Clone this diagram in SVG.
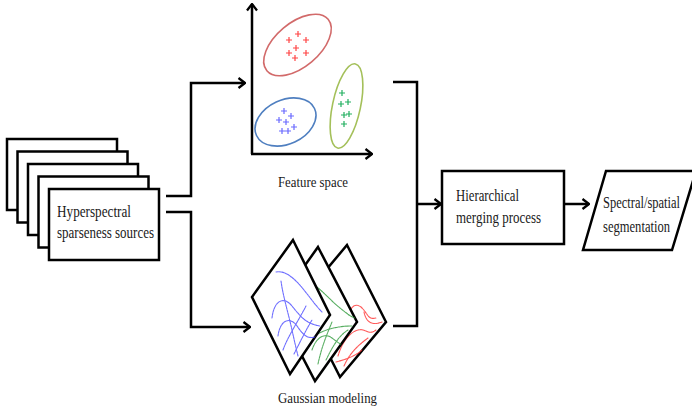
<svg xmlns="http://www.w3.org/2000/svg" width="692" height="418" viewBox="0 0 692 418">
  <style>
    .box { fill: #ffffff; stroke: #000000; stroke-width: 2.5; }
    .wire { fill: none; stroke: #000000; stroke-width: 2.5; stroke-linejoin: miter; }
    .axis { fill: none; stroke: #000000; stroke-width: 2.5; }
    .lbl { font-family: "Liberation Serif", "Times New Roman", serif; font-size: 16px; fill: #1a1a1a; }
    .cap { font-family: "Liberation Serif", "Times New Roman", serif; font-size: 15px; fill: #1a1a1a; }
    .curve { fill: none; stroke-width: 1.1; stroke-dasharray: 2.2 0.8; stroke-linecap: round; opacity: 0.8; }
    .plus { fill: none; stroke-width: 1.2; }
  </style>
  <defs>
    <marker id="chev" viewBox="0 0 10 12" refX="9" refY="6" markerWidth="10" markerHeight="12" markerUnits="userSpaceOnUse" orient="auto">
      <path d="M2.5,1 L9,6 L2.5,11" fill="none" stroke="#000" stroke-width="2.3"/>
    </marker>
    <path id="pl" d="M-3,0 H3 M0,-3 V3"/>
    <clipPath id="clipFront"><polygon points="293,240 330,315 290,374 252,297"/></clipPath>
    <clipPath id="clipMid"><polygon points="318,247 357,322 315,381 276,306"/></clipPath>
    <clipPath id="clipBack"><polygon points="347,245 386,322 340,377 301,300"/></clipPath>
  </defs>

  <!-- stacked source sheets -->
  <g id="sources">
    <rect class="box" x="7" y="139" width="110" height="71"/>
    <rect class="box" x="17.5" y="151.5" width="110" height="71"/>
    <rect class="box" x="28" y="164" width="110" height="71"/>
    <rect class="box" x="38.5" y="176.5" width="110" height="71"/>
    <rect class="box" x="49" y="189" width="110" height="71"/>
    <text class="lbl" x="57" y="217" textLength="74" lengthAdjust="spacingAndGlyphs">Hyperspectral</text>
    <text class="lbl" x="57" y="238" textLength="97" lengthAdjust="spacingAndGlyphs">sparseness sources</text>
  </g>

  <!-- feature space scatter plot -->
  <g id="feature-space">
    <path class="axis" d="M252,154 V4" marker-end="url(#chev)"/>
    <path class="axis" d="M251,154 H372" marker-end="url(#chev)"/>
    <ellipse cx="297.5" cy="45" rx="40" ry="22" transform="rotate(-40 297.5 45)" fill="none" stroke="#d26a6a" stroke-width="1.6"/>
    <ellipse cx="285.5" cy="122" rx="32" ry="22" transform="rotate(-25 285.5 122)" fill="none" stroke="#4f7fc0" stroke-width="1.6"/>
    <ellipse cx="346.5" cy="106" rx="14" ry="43" transform="rotate(12 346.5 106)" fill="none" stroke="#a4c05a" stroke-width="1.6"/>
    <g class="plus" stroke="#ff4545">
      <use href="#pl" x="298" y="34"/><use href="#pl" x="289" y="40"/><use href="#pl" x="306" y="40"/>
      <use href="#pl" x="296" y="48"/><use href="#pl" x="289" y="53"/><use href="#pl" x="306" y="53"/>
      <use href="#pl" x="295" y="58"/>
    </g>
    <g class="plus" stroke="#22b060">
      <use href="#pl" x="342" y="93"/><use href="#pl" x="341" y="104"/><use href="#pl" x="348" y="102"/>
      <use href="#pl" x="344" y="115"/><use href="#pl" x="349" y="114"/><use href="#pl" x="344" y="124"/>
    </g>
    <g class="plus" stroke="#6a6aff">
      <use href="#pl" x="284" y="111"/><use href="#pl" x="279" y="120"/><use href="#pl" x="291" y="116"/>
      <use href="#pl" x="286" y="122"/><use href="#pl" x="294" y="127"/><use href="#pl" x="282" y="131"/>
      <use href="#pl" x="288" y="131"/>
    </g>
    <text class="cap" x="278" y="187" textLength="70" lengthAdjust="spacingAndGlyphs">Feature space</text>
  </g>

  <!-- gaussian model sheets -->
  <g id="gaussian-modeling">
    <polygon class="box" points="347,245 386,322 340,377 301,300"/>
    <g clip-path="url(#clipBack)" class="curve" stroke="#ff3030">
      <path d="M348,318 C350,306 356,302 362,308 S368,320 376,318"/>
      <path d="M338,356 C342,342 350,332 358,330 S368,336 376,330"/>
      <path d="M344,366 C350,352 360,344 368,338"/>
      <path d="M336,362 C344,360 356,356 362,350"/>
      <path d="M364,312 C366,322 372,326 382,322"/>
      <path d="M330,296 C338,300 344,306 348,318"/>
    </g>
    <polygon class="box" points="318,247 357,322 315,381 276,306"/>
    <g clip-path="url(#clipMid)" class="curve" stroke="#2e9a3a">
      <path d="M314,285 C322,290 330,300 340,308 S350,316 355,318"/>
      <path d="M312,350 C316,338 324,332 332,338 S344,348 352,344"/>
      <path d="M318,364 C322,345 328,332 332,322"/>
      <path d="M326,360 C332,348 338,336 348,330"/>
      <path d="M316,335 C324,330 336,326 352,326"/>
    </g>
    <polygon class="box" points="293,240 330,315 290,374 252,297"/>
    <g clip-path="url(#clipFront)" class="curve" stroke="#4a4aff">
      <path d="M276,272 C286,270 296,280 304,290 S316,306 322,312"/>
      <path d="M281,281 C283,296 288,312 292,330 S296,348 298,356"/>
      <path d="M272,318 C274,300 284,296 292,306 S306,324 320,326"/>
      <path d="M278,336 C280,320 290,316 297,326 S308,340 318,336"/>
      <path d="M283,350 C288,336 300,318 306,306"/>
      <path d="M294,354 C300,342 306,330 312,320"/>
    </g>
    <text class="cap" x="278" y="403" textLength="99" lengthAdjust="spacingAndGlyphs">Gaussian modeling</text>
  </g>

  <!-- merging stage -->
  <g id="merging">
    <rect class="box" x="442" y="171" width="122" height="73"/>
    <text class="lbl" x="456" y="201" textLength="63" lengthAdjust="spacingAndGlyphs">Hierarchical</text>
    <text class="lbl" x="456" y="223" textLength="85" lengthAdjust="spacingAndGlyphs">merging process</text>
  </g>

  <!-- output parallelogram -->
  <g id="segmentation">
    <polygon class="box" points="606,171 696,171 672,250 583,250"/>
    <text class="lbl" x="603" y="208" textLength="77" lengthAdjust="spacingAndGlyphs">Spectral/spatial</text>
    <text class="lbl" x="603" y="232" textLength="67" lengthAdjust="spacingAndGlyphs">segmentation</text>
  </g>

  <!-- connectors -->
  <g id="connectors">
    <path class="wire" d="M166,196 H191 V83 H245" marker-end="url(#chev)"/>
    <path class="wire" d="M166,212 H191 V327 H250" marker-end="url(#chev)"/>
    <path class="wire" d="M393,82 H417 V326 H393"/>
    <path class="wire" d="M417,204 H441" marker-end="url(#chev)"/>
    <path class="wire" d="M564,204 H589" marker-end="url(#chev)"/>
  </g>
</svg>
